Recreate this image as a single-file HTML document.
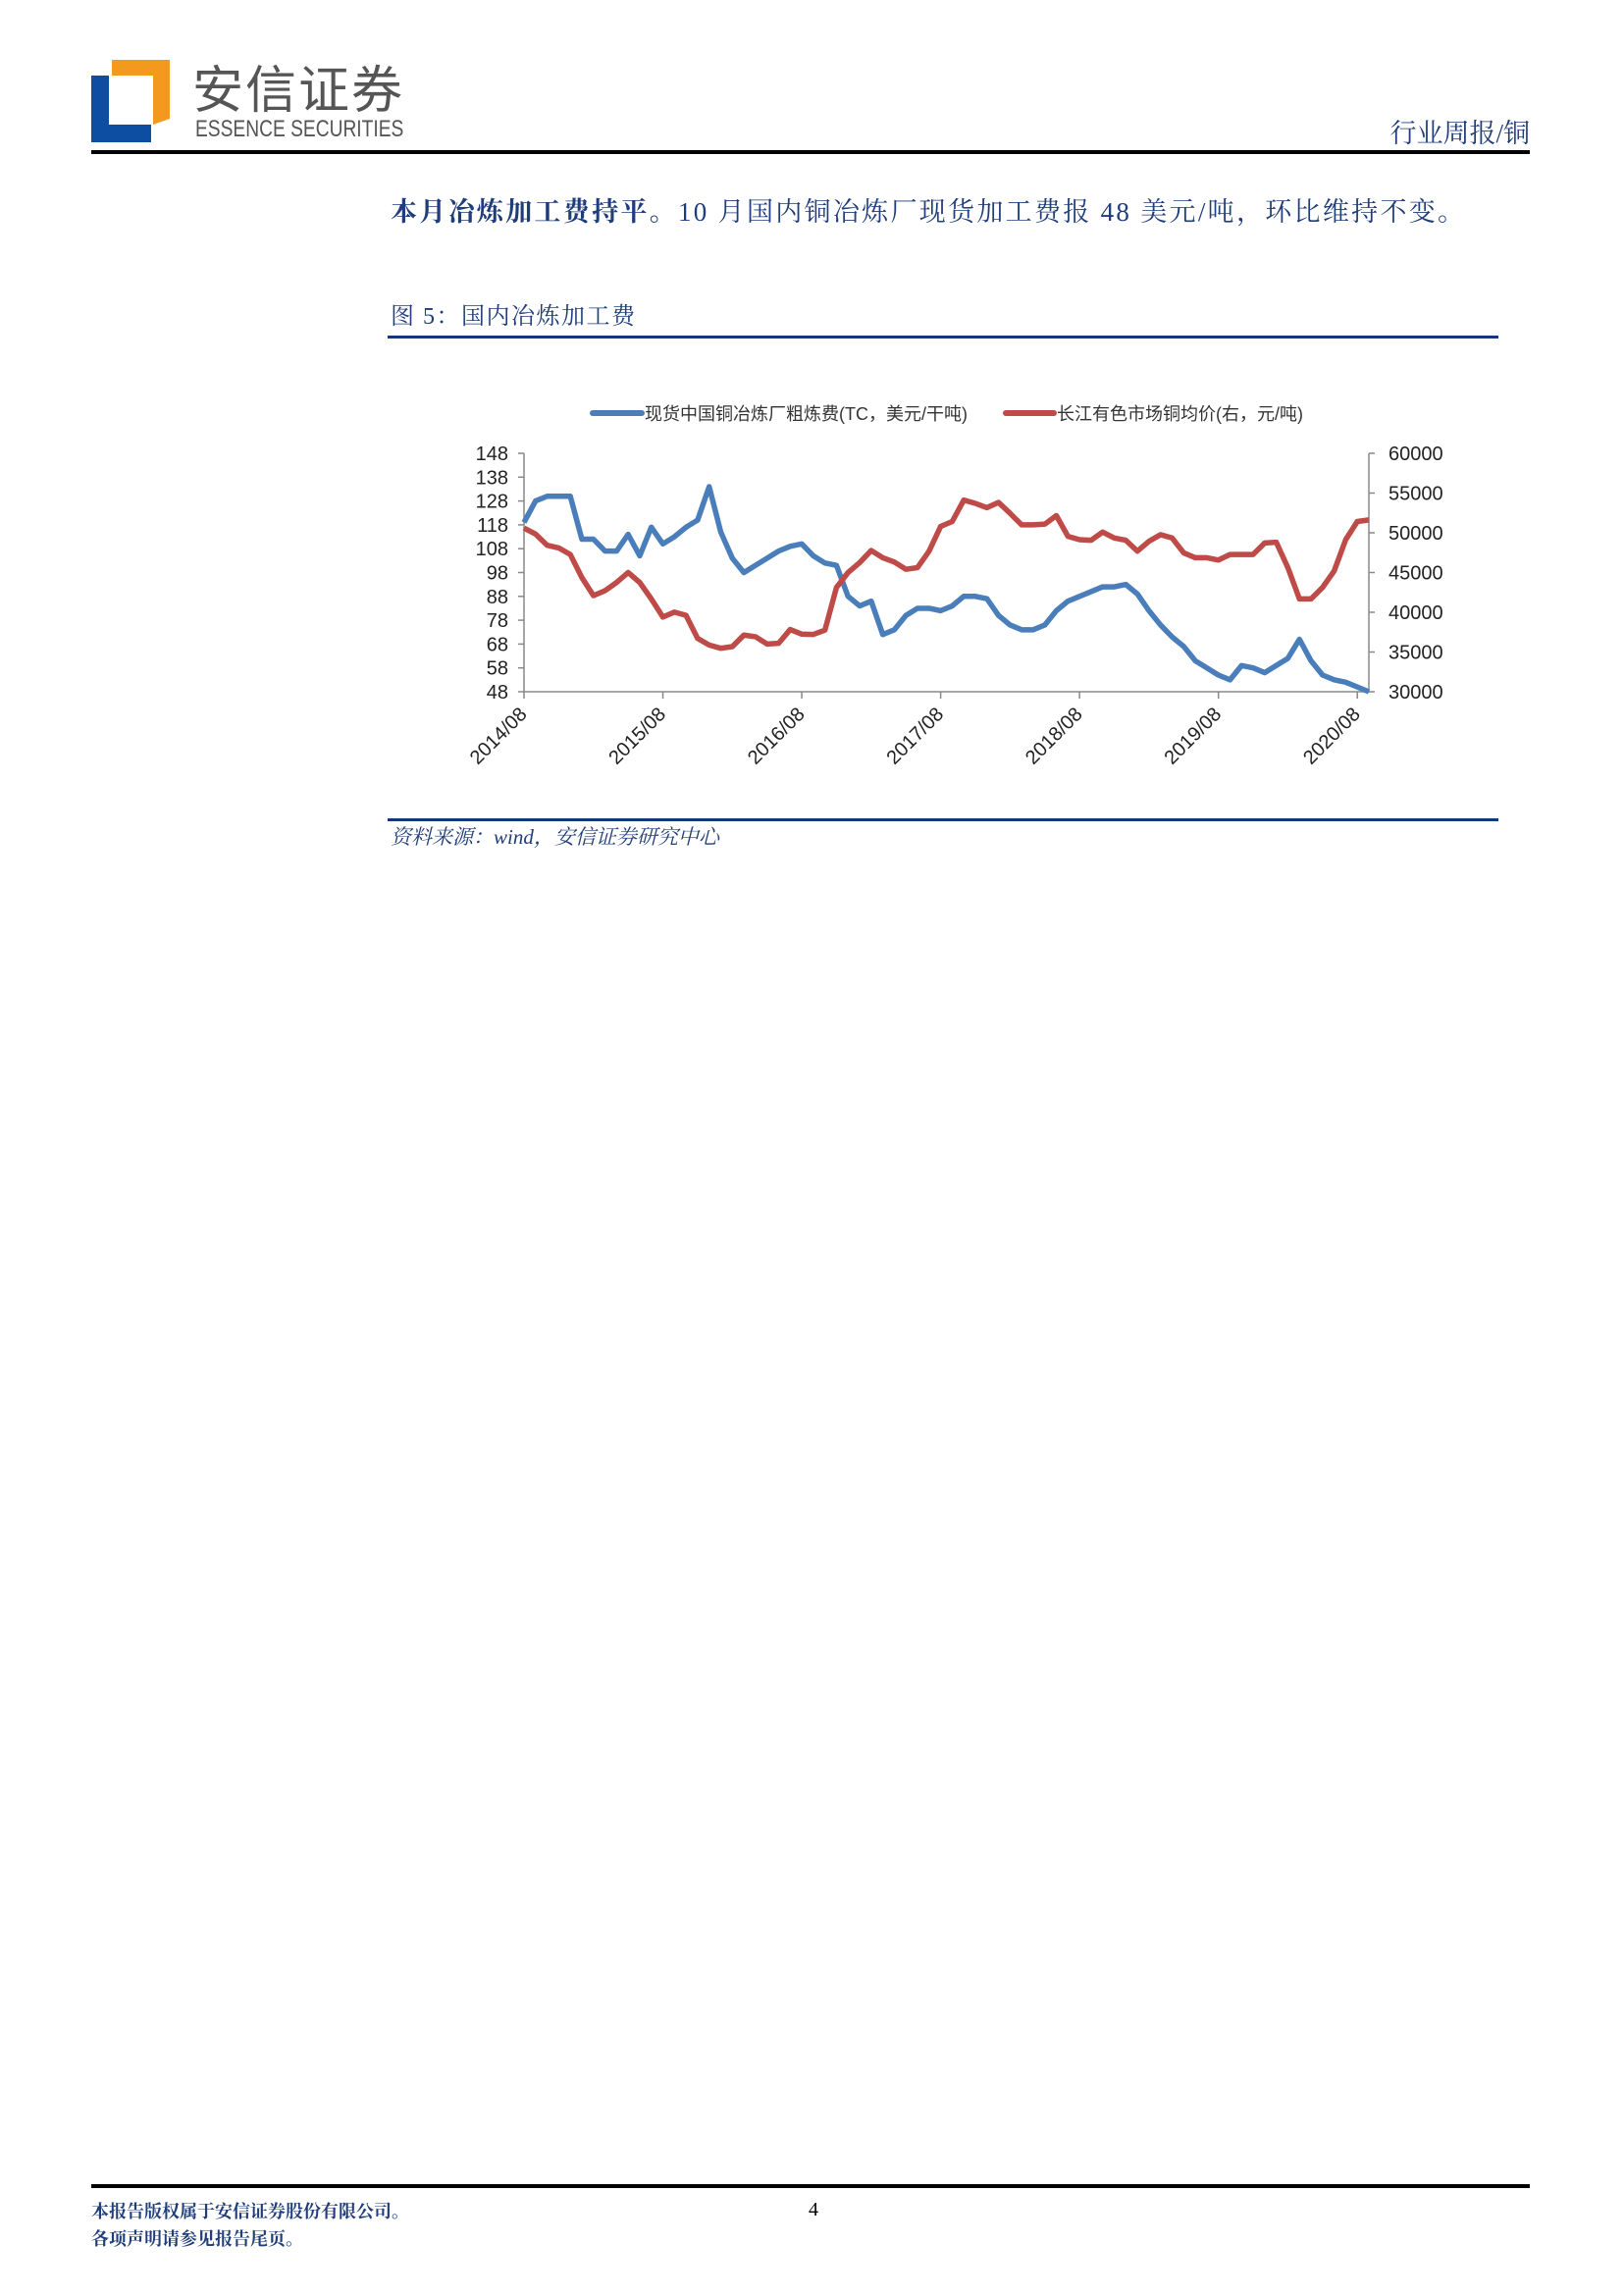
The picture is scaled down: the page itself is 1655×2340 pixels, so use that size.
<!DOCTYPE html>
<html><head><meta charset="utf-8">
<style>
html,body{margin:0;padding:0;background:#fff;}
body{width:1655px;height:2340px;position:relative;overflow:hidden;font-family:"Liberation Sans","Noto Sans CJK SC",sans-serif;}
.abs{position:absolute;white-space:nowrap;}
.serif{font-family:"Liberation Serif","Noto Serif CJK SC",serif;}
</style></head>
<body>
<svg class="abs" style="left:90px;top:55px" width="90" height="95">
  <polygon points="24,6 83,6 83,66 66,72 66,22 24,22" fill="#f39a1e"/>
  <polygon points="3,22 21,22 21,72 64,72 64,90 3,90" fill="#0d4ea3"/>
</svg>
<div class="abs" style="left:196px;top:58px;font-size:52px;color:#555;letter-spacing:2px;font-family:'Noto Sans CJK SC',sans-serif;line-height:60px">安信证券</div>
<div class="abs" style="left:199px;top:120px;font-size:24px;color:#555;transform:scaleX(0.8);transform-origin:left;line-height:24px">ESSENCE SECURITIES</div>
<div class="abs serif" style="right:96px;top:120px;font-size:27px;color:#1f3d7a;line-height:32px">行业周报/铜</div>
<div class="abs" style="left:93px;top:153px;width:1475px;height:4px;background:#000;width:1466px"></div>

<div class="abs serif" style="left:398px;top:198px;font-size:27px;color:#1f3d7a;line-height:36px;letter-spacing:2.3px"><b>本月冶炼加工费持平。</b>10 月国内铜冶炼厂现货加工费报 48 美元/吨，环比维持不变。</div>

<div class="abs serif" style="left:398px;top:307px;font-size:24px;color:#1f3d7a;line-height:32px;letter-spacing:1.5px">图 5：国内冶炼加工费</div>
<div class="abs" style="left:395px;top:342px;width:1132px;height:3px;background:#14367a"></div>

<svg id="chart" class="abs" style="left:0;top:380px" width="1655" height="440"></svg>

<div class="abs" style="left:395px;top:834px;width:1132px;height:3px;background:#14367a"></div>
<div class="abs serif" style="left:398px;top:839px;font-size:21px;color:#1f3d7a;font-style:italic;line-height:28px">资料来源：wind，安信证券研究中心</div>

<div class="abs" style="left:93px;top:2226px;width:1466px;height:4px;background:#000"></div>
<div class="abs serif" style="left:93px;top:2240px;font-size:18px;color:#1f3d7a;font-weight:bold;line-height:28px">本报告版权属于安信证券股份有限公司。<br>各项声明请参见报告尾页。</div>
<div class="abs serif" style="left:824px;top:2241px;font-size:20px;color:#000">4</div>

<script>
const tickLabels = ["2014/08","2015/08","2016/08","2017/08","2018/08","2019/08","2020/08"];
const leftTicks = [48,58,68,78,88,98,108,118,128,138,148];
const rightTicks = [30000,35000,40000,45000,50000,55000,60000];
const tcValues = [119,128,130,130,130,112,112,107,107,114,105,117,110,113,117,120,134,115,104,98,101,104,107,109,110,105,102,101,88,84,86,72,74,80,83,83,82,84,88,88,87,80,76,74,74,76,82,86,88,90,92,92,93,89,82,76,71,67,61,58,55,53,59,58,56,59,62,70,61,55,53,52,50,48];
const priceValues = [50590,49840,48430,48100,47270,44370,42100,42720,43750,45000,43750,41680,39400,40020,39610,36710,35880,35470,35680,37130,36920,36010,36090,37830,37250,37210,37750,43130,45000,46240,47770,46860,46320,45410,45620,47690,50800,51420,54110,53700,53160,53820,52450,51000,51000,51090,52160,49550,49140,49060,50090,49350,49060,47690,48930,49760,49350,47480,46860,46860,46570,47270,47270,47270,48720,48810,45620,41680,41680,43130,45200,49140,51420,51620];

const svg = document.getElementById('chart');
const NS = 'http://www.w3.org/2000/svg';
const OY = 380;
const L = 534, R = 1395, T = 462 - OY, B = 705 - OY;
const n = tcValues.length;
const xs = i => L + i * (R - L) / (n - 1);
const yL = v => B - (v - 48) / 100 * (B - T);
const yR = v => B - (v - 30000) / 30000 * (B - T);
function mk(tag, attrs){const e=document.createElementNS(NS,tag);for(const k in attrs)e.setAttribute(k,attrs[k]);svg.appendChild(e);return e;}

let a = mk('path',{d:`M${L},${T}V${B}H${R}V${T}`,stroke:'#888',fill:'none','stroke-width':1.5});


leftTicks.forEach(v=>{
  const y=yL(v);
  mk('line',{x1:L-6,x2:L,y1:y,y2:y,stroke:'#888','stroke-width':1.5});
  const t=mk('text',{x:L-16,y:y+7,'text-anchor':'end','font-size':20,fill:'#222','font-family':'Liberation Sans, sans-serif'});
  t.textContent=v;
  
  
});
rightTicks.forEach(v=>{
  const y=yR(v);
  mk('line',{x1:R,x2:R+6,y1:y,y2:y,stroke:'#888','stroke-width':1.5});
  const t=mk('text',{x:R+20,y:y+7,'text-anchor':'start','font-size':20,fill:'#222','font-family':'Liberation Sans, sans-serif'});
  t.textContent=v;
  
  
});
tickLabels.forEach((lab,k)=>{
  const x=xs(k*12);
  mk('line',{x1:x,x2:x,y1:B,y2:B+7,stroke:'#888','stroke-width':1.5});
  const t=mk('text',{x:x+4,y:B+24,'text-anchor':'end','font-size':20,fill:'#222','font-family':'Liberation Sans, sans-serif',transform:`rotate(-45 ${x+4} ${B+24})`});
  t.textContent=lab;
  
  
});
const p1=mk('polyline',{points:tcValues.map((v,i)=>xs(i)+','+yL(v)).join(' '),fill:'none',stroke:'#4a7ebb','stroke-width':5.5,'stroke-linejoin':'round'});


const p2=mk('polyline',{points:priceValues.map((v,i)=>xs(i)+','+yR(v)).join(' '),fill:'none',stroke:'#be4b48','stroke-width':5.5,'stroke-linejoin':'round'});


const ly=421-OY;
const l1=mk('line',{x1:604,x2:654,y1:ly,y2:ly,stroke:'#4a7ebb','stroke-width':6,'stroke-linecap':'round'});


const t1=mk('text',{x:657,y:ly+7,'font-size':18,fill:'#333','font-family':'Liberation Sans, Noto Sans CJK SC, sans-serif'});
t1.textContent='现货中国铜冶炼厂粗炼费(TC，美元/干吨)';


const l2=mk('line',{x1:1025,x2:1074,y1:ly,y2:ly,stroke:'#be4b48','stroke-width':6,'stroke-linecap':'round'});


const t2=mk('text',{x:1077,y:ly+7,'font-size':18,fill:'#333','font-family':'Liberation Sans, Noto Sans CJK SC, sans-serif'});
t2.textContent='长江有色市场铜均价(右，元/吨)';


</script>
</body></html>
